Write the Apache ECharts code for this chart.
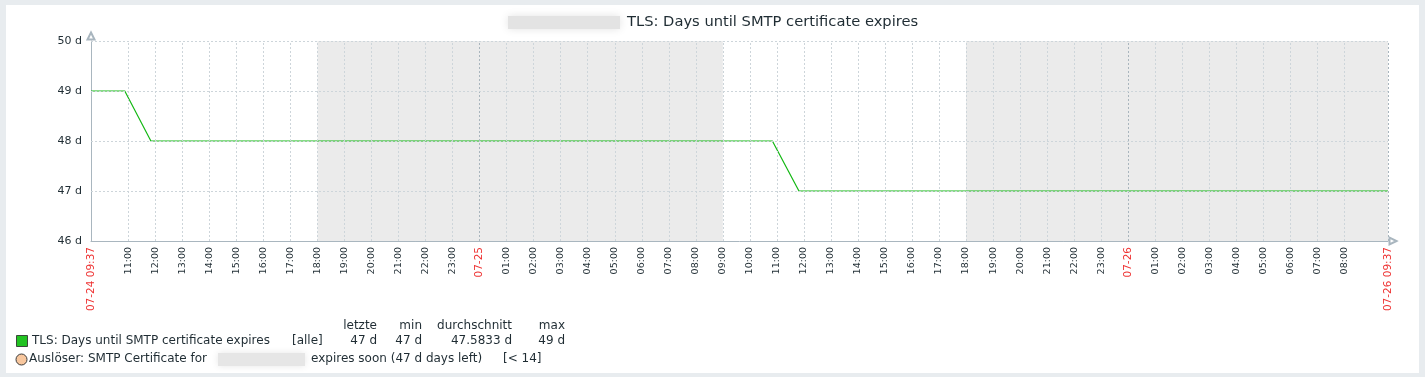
<!DOCTYPE html>
<html>
<head>
<meta charset="utf-8">
<script src="https://cdn.jsdelivr.net/npm/echarts@6/dist/echarts.min.js"></script>
<style>
  html, body { margin: 0; padding: 0; background: #fff; }
  #chart { width: 1425px; height: 377px; }
</style>
</head>
<body>
<div id="chart"></div>
<script>
// Messwerte: Tage bis Ablauf des SMTP-Zertifikats
var sampleTimes = ['2024-07-24T09:37', '2024-07-24T10:52', '2024-07-24T11:50', '2024-07-25T10:50', '2024-07-25T11:49', '2024-07-26T09:37'];
var sampleDays = [49, 49, 48, 48, 47, 47];

var rangeStart = '2024-07-24T09:37';
var rangeEnd = '2024-07-26T09:37';
// Nachtzeiten (grau hinterlegt)
var nightPeriods = [['2024-07-24T18:00', '2024-07-25T09:00'], ['2024-07-25T18:00', '2024-07-26T09:37']];

var yMin = 46, yMax = 50, yStep = 1;
var yGridValues = [47, 48, 49, 50];

// Beschriftung der Zeitachse
var tickLabels = ['07-24 09:37',
  '11:00', '12:00', '13:00', '14:00', '15:00', '16:00', '17:00', '18:00', '19:00', '20:00', '21:00', '22:00', '23:00',
  '07-25',
  '01:00', '02:00', '03:00', '04:00', '05:00', '06:00', '07:00', '08:00', '09:00', '10:00', '11:00', '12:00',
  '13:00', '14:00', '15:00', '16:00', '17:00', '18:00', '19:00', '20:00', '21:00', '22:00', '23:00',
  '07-26',
  '01:00', '02:00', '03:00', '04:00', '05:00', '06:00', '07:00', '08:00',
  '07-26 09:37'];

var legendHeaders = ['letzte', 'min', 'durchschnitt', 'max'];
var legendStats = ['47 d', '47 d', '47.5833 d', '49 d'];
var itemName = 'TLS: Days until SMTP certificate expires';
var triggerText = ['Auslöser: SMTP Certificate for', 'expires soon (47 d days left)', '[< 14]'];

var FONT = 'DejaVu Sans';
var TXT = '#1f2c33';
var AXIS = '#a9b6bf';
var GRID = '#cdd5da';

function ts(s) { return +new Date(s); }

// Zeitstempel der Achsenbeschriftungen
var tickTimes = [];
var curDay = '07-24';
tickLabels.forEach(function (l) {
  var hhmm;
  if (l.indexOf(' ') > 0) { curDay = l.split(' ')[0]; hhmm = l.split(' ')[1]; }
  else if (l.indexOf('-') > 0) { curDay = l; hhmm = '00:00'; }
  else { hhmm = l; }
  tickTimes.push(ts('2024-' + curDay + 'T' + hhmm));
});
function isDateLabel(l) { return l.indexOf('-') > 0; }

var lineData = sampleTimes.map(function (t, i) { return [ts(t), sampleDays[i]]; });

var chart = echarts.init(document.getElementById('chart'));

var graphics = [
  // grauer Rahmen
  { type: 'rect', shape: { x: 0, y: 0, width: 1425, height: 5 }, style: { fill: '#e8ecef' }, silent: true },
  { type: 'rect', shape: { x: 0, y: 373, width: 1425, height: 4 }, style: { fill: '#e8ecef' }, silent: true },
  { type: 'rect', shape: { x: 0, y: 0, width: 6, height: 377 }, style: { fill: '#e8ecef' }, silent: true },
  { type: 'rect', shape: { x: 1419, y: 0, width: 6, height: 377 }, style: { fill: '#e8ecef' }, silent: true },
  // Titel (Hostname unkenntlich)
  { type: 'rect', shape: { x: 508, y: 16, width: 112, height: 13 }, style: { fill: '#e3e3e3', shadowBlur: 8, shadowColor: '#e3e3e3' }, silent: true },
  { type: 'text', x: 627, y: 22, style: { text: itemName, font: '14.7px "' + FONT + '"', fill: TXT, verticalAlign: 'middle' } },
  // Legende Zeile 1
  { type: 'rect', shape: { x: 16.5, y: 335.5, width: 11, height: 11 }, style: { fill: '#22c322', stroke: '#3a4a3a', lineWidth: 1 } },
  { type: 'text', x: 32, y: 341, style: { text: itemName, font: '12px "' + FONT + '"', fill: TXT, verticalAlign: 'middle' } },
  { type: 'text', x: 292, y: 341, style: { text: '[alle]', font: '12px "' + FONT + '"', fill: TXT, verticalAlign: 'middle' } },
  // Legende Zeile 2
  { type: 'circle', shape: { cx: 21.5, cy: 359.5, r: 5.5 }, style: { fill: '#f8c79e', stroke: '#3b3b3b', lineWidth: 1 } },
  { type: 'text', x: 29, y: 359, style: { text: triggerText[0], font: '12px "' + FONT + '"', fill: TXT, verticalAlign: 'middle' } },
  { type: 'rect', shape: { x: 218, y: 353, width: 87, height: 13 }, style: { fill: '#e6e6e6', shadowBlur: 7, shadowColor: '#e6e6e6' }, silent: true },
  { type: 'text', x: 311, y: 359, style: { text: triggerText[1], font: '12px "' + FONT + '"', fill: TXT, verticalAlign: 'middle' } },
  { type: 'text', x: 503, y: 359, style: { text: triggerText[2], font: '12px "' + FONT + '"', fill: TXT, verticalAlign: 'middle' } }
];
// Statistik-Spalten (rechtsbündig)
var colRight = [377, 422, 512, 565];
legendHeaders.forEach(function (h, i) {
  graphics.push({ type: 'text', x: colRight[i], y: 326, style: { text: h, font: '12px "' + FONT + '"', fill: TXT, align: 'right', verticalAlign: 'middle' } });
  graphics.push({ type: 'text', x: colRight[i], y: 341, style: { text: legendStats[i], font: '12px "' + FONT + '"', fill: TXT, align: 'right', verticalAlign: 'middle' } });
});

// Rasterlinien über der Nachtschattierung
var gridLines = tickTimes.slice(1).map(function (t, i) {
  var dateLine = isDateLabel(tickLabels[i + 1]);
  return { xAxis: t, lineStyle: { color: dateLine ? '#a9b5bd' : GRID, type: [2, 2], width: 1 } };
}).concat(yGridValues.map(function (v) {
  return { yAxis: v, lineStyle: { color: GRID, type: [2, 2], width: 1 } };
}));

var option = {
  animation: false,
  backgroundColor: '#ffffff',
  textStyle: { fontFamily: FONT },
  grid: { left: 91, right: 37, top: 41, bottom: 136 },
  xAxis: {
    type: 'value',
    min: ts(rangeStart),
    max: ts(rangeEnd),
    axisLine: {
      lineStyle: { color: AXIS, width: 1 },
      symbol: ['none', 'emptyTriangle'],
      symbolSize: [7, 7],
      symbolOffset: [0, 5]
    },
    axisTick: { show: false },
    splitLine: { show: false },
    axisLabel: {
      customValues: tickTimes,
      rotate: 90,
      margin: 6,
      fontSize: 9.5,
      color: TXT,
      fontFamily: FONT,
      formatter: function (v) {
        var i = tickTimes.indexOf(v);
        if (i < 0) return '';
        var l = tickLabels[i];
        return isDateLabel(l) ? '{d|' + l + '}' : l;
      },
      rich: { d: { color: '#ee3333', fontSize: 10.5, fontFamily: FONT } }
    }
  },
  yAxis: {
    type: 'value',
    min: yMin,
    max: yMax,
    interval: yStep,
    axisLine: {
      show: true,
      lineStyle: { color: AXIS, width: 1 },
      symbol: ['none', 'emptyTriangle'],
      symbolSize: [7, 7],
      symbolOffset: [0, 5]
    },
    axisTick: { show: false },
    axisLabel: { formatter: '{value} d', fontSize: 11, color: TXT, margin: 9, fontFamily: FONT },
    splitLine: { show: false }
  },
  series: [
    {
      name: 'nacht',
      type: 'line',
      z: 1,
      data: [],
      silent: true,
      markArea: {
        silent: true,
        itemStyle: { color: '#ebebeb' },
        data: nightPeriods.map(function (p) { return [{ xAxis: ts(p[0]) }, { xAxis: ts(p[1]) }]; })
      }
    },
    {
      name: 'raster',
      type: 'line',
      z: 2,
      data: [],
      silent: true,
      markLine: {
        silent: true,
        symbol: ['none', 'none'],
        label: { show: false },
        animation: false,
        data: gridLines
      }
    },
    {
      name: itemName,
      type: 'line',
      z: 3,
      data: lineData,
      showSymbol: false,
      lineStyle: { color: '#14b814', width: 1.2 },
      itemStyle: { color: '#14b814' }
    }
  ],
  graphic: { elements: graphics }
};

chart.setOption(option);
</script>
</body>
</html>
